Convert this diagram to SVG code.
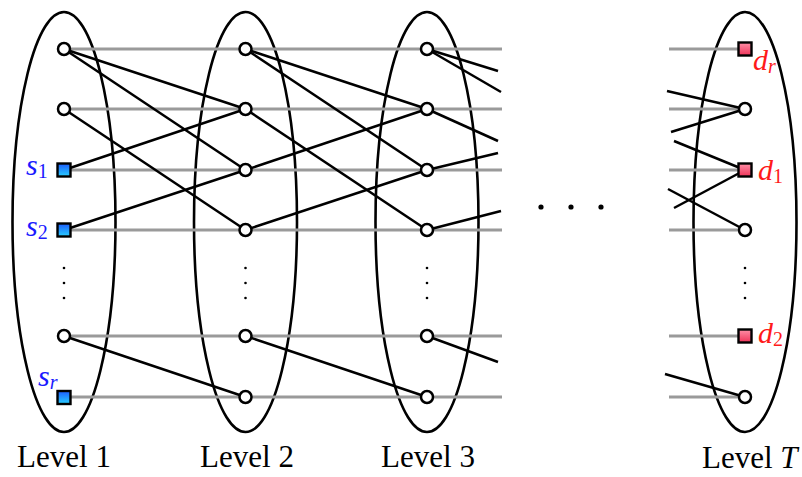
<svg xmlns="http://www.w3.org/2000/svg" width="802" height="477" viewBox="0 0 802 477">
<style>
.ell{fill:none;stroke:#000;stroke-width:2.6}
.gray{stroke:#9a9a9a;stroke-width:3;fill:none}
.edge{stroke:#000;stroke-width:2.5;fill:none;stroke-linecap:butt}
.node{fill:#fff;stroke:#000;stroke-width:2.5}
.src{fill:url(#blue);stroke:#000;stroke-width:2.4}
.dst{fill:url(#pink);stroke:#000;stroke-width:2.4}
text{font-family:'Liberation Serif',serif}
.lbl{font-size:31px;fill:#000}
.math{font-style:italic;font-size:30px}
.sub{font-style:normal;font-size:20px}
.subi{font-style:italic;font-size:20px}
.blue{fill:#1a1aff}
.red{fill:#ff1a1a}
.dot{fill:#000}
</style>
<defs>
<linearGradient id="blue" x1="0" y1="0" x2="0" y2="1">
<stop offset="0" stop-color="#1e5cff"/>
<stop offset="1" stop-color="#28d0ff"/>
</linearGradient>
<linearGradient id="pink" x1="0" y1="0" x2="0" y2="1">
<stop offset="0" stop-color="#ff90a8"/>
<stop offset="1" stop-color="#ee3358"/>
</linearGradient>
</defs>

<g id="levels">
<ellipse class="ell" cx="64" cy="222" rx="51.5" ry="210"/>
<ellipse class="ell" cx="245.5" cy="222" rx="51.5" ry="210"/>
<ellipse class="ell" cx="427" cy="222" rx="51.5" ry="210"/>
<ellipse class="ell" cx="745" cy="222" rx="51.5" ry="210"/>
</g>

<g id="connectors">
<g id="rows">
<line class="gray" x1="64" y1="49" x2="502" y2="49"/>
<line class="gray" x1="64" y1="109" x2="502" y2="109"/>
<line class="gray" x1="64" y1="170" x2="502" y2="170"/>
<line class="gray" x1="64" y1="230" x2="502" y2="230"/>
<line class="gray" x1="64" y1="336" x2="502" y2="336"/>
<line class="gray" x1="64" y1="397" x2="502" y2="397"/>
<line class="gray" x1="669" y1="49" x2="745" y2="49"/>
<line class="gray" x1="669" y1="109" x2="745" y2="109"/>
<line class="gray" x1="669" y1="170" x2="745" y2="170"/>
<line class="gray" x1="669" y1="230" x2="745" y2="230"/>
<line class="gray" x1="669" y1="336" x2="745" y2="336"/>
<line class="gray" x1="669" y1="397" x2="745" y2="397"/>
</g>
<g id="edges">
<line class="edge" x1="64" y1="49" x2="245.5" y2="109"/>
<line class="edge" x1="64" y1="49" x2="245.5" y2="170"/>
<line class="edge" x1="64" y1="109" x2="245.5" y2="230"/>
<line class="edge" x1="64" y1="170" x2="245.5" y2="109"/>
<line class="edge" x1="64" y1="230" x2="245.5" y2="170"/>
<line class="edge" x1="64" y1="336" x2="245.5" y2="397"/>
<line class="edge" x1="245.5" y1="49" x2="427" y2="109"/>
<line class="edge" x1="245.5" y1="49" x2="427" y2="170"/>
<line class="edge" x1="245.5" y1="109" x2="427" y2="230"/>
<line class="edge" x1="245.5" y1="170" x2="427" y2="109"/>
<line class="edge" x1="245.5" y1="230" x2="427" y2="170"/>
<line class="edge" x1="245.5" y1="336" x2="427" y2="397"/>
<line class="edge" x1="427" y1="49" x2="498" y2="71"/>
<line class="edge" x1="427" y1="49" x2="501" y2="92"/>
<line class="edge" x1="427" y1="109" x2="498" y2="141"/>
<line class="edge" x1="427" y1="170" x2="498" y2="153"/>
<line class="edge" x1="427" y1="230" x2="501" y2="211"/>
<line class="edge" x1="427" y1="336" x2="498" y2="362"/>
<line class="edge" x1="667" y1="91" x2="745" y2="109"/>
<line class="edge" x1="671" y1="132" x2="745" y2="109"/>
<line class="edge" x1="674" y1="141" x2="745" y2="170"/>
<line class="edge" x1="674" y1="208" x2="745" y2="170"/>
<line class="edge" x1="668" y1="189" x2="745" y2="230"/>
<line class="edge" x1="665" y1="374" x2="745" y2="397"/>
</g>
</g>

<g id="level1">
<circle class="node" cx="64" cy="49" r="6"/>
<circle class="node" cx="64" cy="109" r="6"/>
<rect class="src" x="57.5" y="163.5" width="13" height="13"/>
<rect class="src" x="57.5" y="223.5" width="13" height="13"/>
<circle class="node" cx="64" cy="336" r="6"/>
<rect class="src" x="57.5" y="391" width="13" height="13"/>
<circle class="dot" cx="64" cy="268" r="1.3"/>
<circle class="dot" cx="64" cy="283" r="1.3"/>
<circle class="dot" cx="64" cy="298" r="1.3"/>
<text class="math blue" x="26" y="175">s<tspan class="sub" dy="3">1</tspan></text>
<text class="math blue" x="26" y="236">s<tspan class="sub" dy="3">2</tspan></text>
<text class="math blue" x="38" y="386">s<tspan class="subi" dy="3">r</tspan></text>
<text class="lbl" x="64" y="467" text-anchor="middle">Level 1</text>
</g>

<g id="level2">
<circle class="node" cx="245.5" cy="49" r="6"/>
<circle class="node" cx="245.5" cy="109" r="6"/>
<circle class="node" cx="245.5" cy="170" r="6"/>
<circle class="node" cx="245.5" cy="230" r="6"/>
<circle class="node" cx="245.5" cy="336" r="6"/>
<circle class="node" cx="245.5" cy="397" r="6"/>
<circle class="dot" cx="245.5" cy="268" r="1.3"/>
<circle class="dot" cx="245.5" cy="283" r="1.3"/>
<circle class="dot" cx="245.5" cy="298" r="1.3"/>
<text class="lbl" x="247" y="467" text-anchor="middle">Level 2</text>
</g>

<g id="level3">
<circle class="node" cx="427" cy="49" r="6"/>
<circle class="node" cx="427" cy="109" r="6"/>
<circle class="node" cx="427" cy="170" r="6"/>
<circle class="node" cx="427" cy="230" r="6"/>
<circle class="node" cx="427" cy="336" r="6"/>
<circle class="node" cx="427" cy="397" r="6"/>
<circle class="dot" cx="427" cy="268" r="1.3"/>
<circle class="dot" cx="427" cy="283" r="1.3"/>
<circle class="dot" cx="427" cy="298" r="1.3"/>
<text class="lbl" x="428" y="467" text-anchor="middle">Level 3</text>
</g>

<g id="ellipsis">
<circle class="dot" cx="541" cy="207" r="2.6"/>
<circle class="dot" cx="571" cy="207" r="2.6"/>
<circle class="dot" cx="601" cy="207" r="2.6"/>
</g>

<g id="levelT">
<rect class="dst" x="738.5" y="42.5" width="13" height="13"/>
<circle class="node" cx="745" cy="109" r="6"/>
<rect class="dst" x="738.5" y="163.5" width="13" height="13"/>
<circle class="node" cx="745" cy="230" r="6"/>
<rect class="dst" x="738.5" y="329.5" width="13" height="13"/>
<circle class="node" cx="745" cy="397" r="6"/>
<circle class="dot" cx="745" cy="268" r="1.3"/>
<circle class="dot" cx="745" cy="283" r="1.3"/>
<circle class="dot" cx="745" cy="298" r="1.3"/>
<text class="math red" x="753" y="70">d<tspan class="subi" dy="3">r</tspan></text>
<text class="math red" x="758" y="180">d<tspan class="sub" dy="3">1</tspan></text>
<text class="math red" x="758" y="343">d<tspan class="sub" dy="3">2</tspan></text>
<text class="lbl" x="702" y="468">Level <tspan font-style="italic">T</tspan></text>
</g>
</svg>
